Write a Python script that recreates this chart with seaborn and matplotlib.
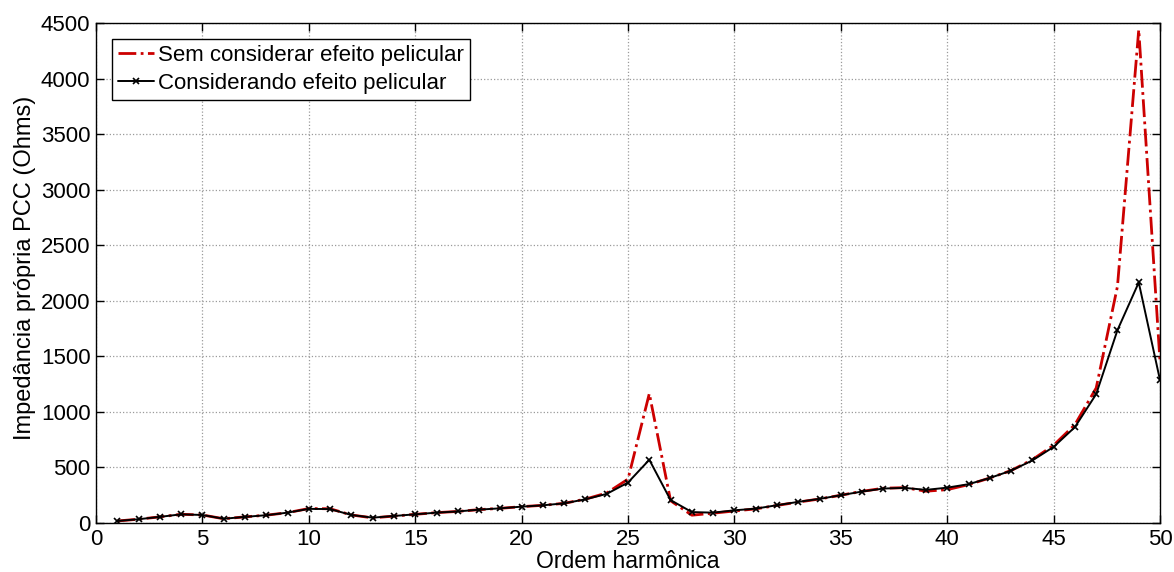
import numpy as np
import pandas as pd
import matplotlib
matplotlib.use("Agg")
import matplotlib.pyplot as plt
import seaborn as sns

# Harmonic orders and self impedance at the PCC (Ohms)
harmonic_order = list(range(1, 51))

z_without_skin = [18, 34, 55, 78, 72, 38, 55, 70, 93, 130,
                  128, 72, 46, 62, 78, 93, 104, 120, 132, 147,
                  159, 177, 215, 270, 395, 1165, 200, 70, 88, 108,
                  127, 158, 188, 216, 250, 285, 313, 318, 286, 300,
                  345, 405, 472, 570, 700, 885, 1215, 2130, 4440, 1450]

z_with_skin = [18, 34, 55, 78, 72, 38, 55, 70, 93, 127,
               125, 72, 48, 63, 78, 93, 104, 120, 132, 147,
               159, 177, 213, 262, 364, 569, 206, 98, 93, 114,
               129, 160, 190, 217, 250, 283, 310, 316, 298, 318,
               349, 405, 471, 563, 685, 863, 1160, 1736, 2165, 1285]

label_without = "Sem considerar efeito pelicular"
label_with = "Considerando efeito pelicular"

sns.set_style("ticks")
plt.rcParams["font.family"] = ["Liberation Sans", "DejaVu Sans"]
plt.rcParams["text.color"] = "black"
plt.rcParams["axes.labelcolor"] = "black"

df_without = pd.DataFrame({"h": harmonic_order, "z": z_without_skin})
df_with = pd.DataFrame({"h": harmonic_order, "z": z_with_skin})

fig = plt.figure(figsize=(11.74, 5.72), dpi=100)
ax = fig.add_axes([0.0818, 0.0857, 0.9063, 0.874])

sns.lineplot(data=df_without, x="h", y="z", ax=ax, color="#cc0000",
             linestyle="-.", linewidth=2.0, label=label_without)
sns.lineplot(data=df_with, x="h", y="z", ax=ax, color="black",
             linestyle="-", linewidth=1.4, marker="x", markersize=4,
             markeredgewidth=1.2, markeredgecolor="black",
             markerfacecolor="black", label=label_with)

ax.set_xlim(0, 50)
ax.set_ylim(0, 4500)
ax.set_xticks(np.arange(0, 51, 5))
ax.set_yticks(np.arange(0, 4501, 500))
ax.grid(True, color="#9a9a9a", linestyle=":", linewidth=0.9)
ax.tick_params(direction="in", length=6, width=1, labelsize=16,
               top=True, right=True, colors="black")
ax.tick_params(axis="x", pad=4)
ax.tick_params(axis="y", pad=4)
for side in ax.spines.values():
    side.set_visible(True)
    side.set_color("black")
    side.set_linewidth(1.0)

ax.set_xlabel("Ordem harmônica", fontsize=16.5, labelpad=0.5)
ax.set_ylabel("Impedância própria PCC (Ohms)", fontsize=17)
ax.yaxis.set_label_coords(-0.056, 0.51)

leg = ax.legend(loc="upper left", bbox_to_anchor=(0.015, 0.968),
                fontsize=16, frameon=True, fancybox=False,
                edgecolor="black", framealpha=1, handlelength=1.6,
                handletextpad=0.2, borderpad=0.27, labelspacing=0.3,
                borderaxespad=0)
leg.get_frame().set_linewidth(1.0)

fig.savefig("out.png", dpi=100)
